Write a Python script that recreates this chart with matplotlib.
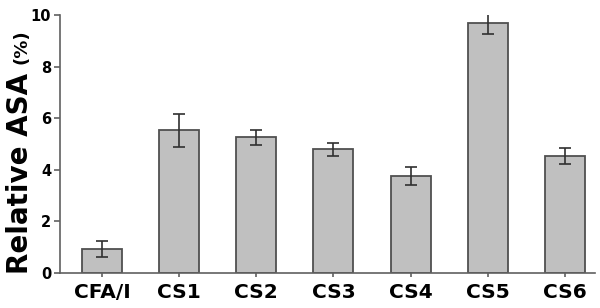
import matplotlib
matplotlib.use("Agg")
import matplotlib.pyplot as plt
import numpy as np

categories = ["CFA/I", "CS1", "CS2", "CS3", "CS4", "CS5", "CS6"]
values = [0.93, 5.53, 5.26, 4.79, 3.77, 9.68, 4.54]
errors = [0.30, 0.63, 0.28, 0.24, 0.35, 0.40, 0.30]
yticks = [0, 2, 4, 6, 8, 10]

fig = plt.figure(figsize=(6.0, 3.08), dpi=100)
ax = fig.add_axes([59.5 / 600, 35 / 308, 535.5 / 600, 258 / 308])

x = np.arange(len(categories))
ax.bar(x, values, width=0.52, color="#c0c0c0", edgecolor="#505050", linewidth=1.3,
       yerr=errors, capsize=4,
       error_kw=dict(ecolor="#303030", elinewidth=1.2, capthick=1.2))

ax.set_xlim(-0.55, 6.39)
ax.set_ylim(0, 10)
ax.set_xticks(x)
ax.set_xticklabels(categories, fontsize=14.5, fontweight="bold", family="DejaVu Sans")
ax.set_yticks(yticks)
ax.set_yticklabels([str(t) for t in yticks], fontsize=10.5, fontweight="bold", family="DejaVu Sans")
for s in ("top", "right"):
    ax.spines[s].set_visible(False)
for s in ("left", "bottom"):
    ax.spines[s].set_color("#606060")
    ax.spines[s].set_linewidth(1.2)
ax.tick_params(axis="y", direction="out", length=4, width=1.2, color="#606060", pad=2)
ax.tick_params(axis="x", direction="out", length=3, width=1.2, color="#606060", pad=4.5)

fig.text(20 / 600, 1 - 173 / 308, "Relative ASA", rotation=90, ha="center", va="center",
         fontsize=20, fontweight="bold", family="DejaVu Sans")
fig.text(22 / 600, 1 - 47 / 308, "(%)", rotation=90, ha="center", va="center",
         fontsize=13, fontweight="bold", family="DejaVu Sans")

fig.savefig("out.png", dpi=100)
